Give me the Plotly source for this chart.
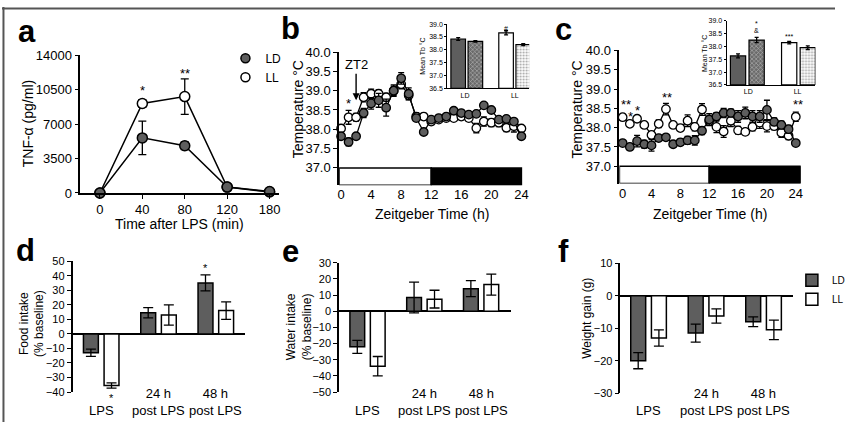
import plotly.graph_objects as go

W, H = 850, 430
FONT = 'Arial, "Liberation Sans", sans-serif'
DARK = '#5e5e5e'

# panel a: TNF-alpha after LPS
tnf_times = ['0', '40', '80', '120', '180']
tnf_ld = [0, 5600, 4800, 600, 150]
tnf_ld_err = [0, 1700, 400, 150, 80]
tnf_ll = [0, 9100, 9800, 600, 100]
tnf_ll_err = [0, 400, 1800, 100, 50]

# panels b, c: body temperature over a day
hours = [0, 1, 2, 3, 4, 5, 6, 7, 8, 9, 10, 11, 12, 13, 14, 15, 16, 17, 18, 19, 20, 21, 22, 23, 24]
b_ld = [37.82, 37.67, 37.82, 38.42, 38.67, 38.75, 38.56, 39.0, 39.32, 38.92, 38.29, 37.93, 38.25,
        38.29, 38.33, 38.48, 38.42, 38.38, 38.4, 38.62, 38.5, 38.25, 38.27, 38.2, 37.82]
b_ld_err = [0.06, 0.1, 0.05, 0.12, 0.15, 0.18, 0.22, 0.15, 0.15, 0.15, 0.08, 0.06, 0.05,
            0.05, 0.05, 0.07, 0.05, 0.05, 0.05, 0.05, 0.05, 0.06, 0.07, 0.06, 0.05]
b_ll = [38.02, 38.31, 38.31, 38.83, 38.92, 38.92, 38.83, 39.0, 39.17, 38.88, 38.33, 38.33, 38.2,
        38.25, 38.29, 38.29, 38.33, 38.29, 38.03, 38.2, 38.17, 38.17, 38.04, 38.08, 38.02]
b_ll_err = [0.06, 0.18, 0.1, 0.12, 0.12, 0.1, 0.1, 0.12, 0.12, 0.12, 0.1, 0.08, 0.08,
            0.06, 0.06, 0.06, 0.08, 0.08, 0.12, 0.12, 0.1, 0.1, 0.1, 0.15, 0.1]
c_ld = [37.6, 37.5, 37.65, 37.57, 37.54, 37.73, 37.75, 37.57, 37.62, 37.67, 37.67, 37.92, 38.21,
        38.29, 38.38, 38.38, 38.29, 38.38, 38.29, 38.29, 38.46, 38.15, 38.07, 37.96, 37.6]
c_ld_err = [0.03, 0.08, 0.15, 0.1, 0.15, 0.05, 0.05, 0.05, 0.08, 0.1, 0.12, 0.1, 0.15,
            0.1, 0.12, 0.1, 0.15, 0.15, 0.15, 0.15, 0.25, 0.1, 0.1, 0.1, 0.03]
c_ll = [38.27, 38.1, 38.23, 38.07, 37.81, 38.1, 38.48, 38.07, 37.99, 38.18, 38.02, 38.47, 38.17,
        38.02, 37.9, 38.18, 37.93, 37.89, 38.02, 38.13, 38.04, 38.04, 37.87, 37.79, 38.28]
c_ll_err = [0.08, 0.05, 0.05, 0.05, 0.08, 0.1, 0.15, 0.08, 0.05, 0.15, 0.1, 0.15, 0.12,
            0.15, 0.15, 0.15, 0.1, 0.08, 0.1, 0.15, 0.15, 0.1, 0.12, 0.1, 0.12]

# insets: mean Tb, bars LD-light, LD-dark, LL-light, LL-dark
inset_groups = ['LD', 'LL']
b_inset = [38.42, 38.33, 38.66, 38.2]
b_inset_err = [0.05, 0.03, 0.08, 0.04]
c_inset = [37.63, 38.25, 38.15, 37.95]
c_inset_err = [0.08, 0.1, 0.05, 0.07]

# panels d, e, f
bar_cats = ['LPS', '24 h<br>post LPS', '48 h<br>post LPS']
food_ld = [-13, 14.5, 35]
food_ld_err = [2.5, 3.5, 5.5]
food_ll = [-35.5, 13, 16]
food_ll_err = [1.8, 7, 6]
water_ld = [-22, 8.5, 14]
water_ld_err = [4, 9.5, 5]
water_ll = [-34, 7.5, 16.5]
water_ll_err = [6, 5.5, 6.5]
weight_ld = [-20, -11.5, -8]
weight_ld_err = [2.5, 2.8, 1.5]
weight_ll = [-13, -6.2, -10.5]
weight_ll_err = [2.5, 2.2, 3]


def xd(l, r):
    return [l / W, r / W]


def yd(t, b):
    return [1 - b / H, 1 - t / H]


def px(x):
    return x / W


def py(y):
    return 1 - y / H


def err(arr, w=3):
    return dict(type='data', array=arr, visible=True, color='black', thickness=1.3, width=w)


fig = go.Figure()

# ---- a
for vals, e, fill in [(tnf_ll, tnf_ll_err, 'white'), (tnf_ld, tnf_ld_err, DARK)]:
    fig.add_trace(go.Scatter(x=tnf_times, y=vals, error_y=err(e, 4), mode='lines+markers',
                             line=dict(color='black', width=1.5),
                             marker=dict(size=10, color=fill, line=dict(color='black', width=1.5)),
                             showlegend=False, xaxis='x', yaxis='y', cliponaxis=False))
for name, fill in [('LD', DARK), ('LL', 'white')]:
    fig.add_trace(go.Scatter(x=[None], y=[None], mode='markers', name=name,
                             marker=dict(size=9, color=fill, line=dict(color='black', width=1.5)),
                             xaxis='x', yaxis='y'))

# ---- b, c time series
for xa, ya, ld, lde, ll, lle in [('x2', 'y2', b_ld, b_ld_err, b_ll, b_ll_err),
                                 ('x4', 'y4', c_ld, c_ld_err, c_ll, c_ll_err)]:
    for vals, e, fill in [(ll, lle, 'white'), (ld, lde, DARK)]:
        fig.add_trace(go.Scatter(x=hours, y=vals, error_y=err(e, 3), mode='lines+markers',
                                 line=dict(color='black', width=1.3),
                                 marker=dict(size=8.5, color=fill, line=dict(color='black', width=1.3)),
                                 showlegend=False, xaxis=xa, yaxis=ya, cliponaxis=False))

# ---- insets
for xa, ya, vals, e, gap, bw in [('x3', 'y3', b_inset, b_inset_err, 2.79, 0.85),
                                 ('x5', 'y5', c_inset, c_inset_err, 2.75, 0.82)]:
    pos = [g * gap + i for g in range(2) for i in range(2)]
    fig.add_trace(go.Bar(x=pos, y=[v - 36.5 for v in vals], base=36.5, width=bw,
                         error_y=err(e, 2),
                         marker=dict(color=[DARK, '#6a6a6a', 'white', 'white'],
                                     line=dict(color='black', width=1.2),
                                     pattern=dict(shape=['', 'x', '', '.'],
                                                  fgcolor=[DARK, '#3a3a3a', 'white', '#b0b0b0'],
                                                  bgcolor=[DARK, '#7a7a7a', 'white', 'white'],
                                                  size=3, solidity=0.35)),
                         showlegend=False, xaxis=xa, yaxis=ya))

# ---- d, e, f
for xa, ya, ld, lde, ll, lle, leg in [('x6', 'y6', food_ld, food_ld_err, food_ll, food_ll_err, False),
                                      ('x7', 'y7', water_ld, water_ld_err, water_ll, water_ll_err, False),
                                      ('x8', 'y8', weight_ld, weight_ld_err, weight_ll, weight_ll_err, True)]:
    cat_pos = list(range(len(bar_cats)))
    fig.add_trace(go.Bar(x=cat_pos, y=ld, width=0.26, offset=-0.31, error_y=err(lde, 5),
                         marker=dict(color=DARK, line=dict(color='black', width=1.5)),
                         name='LD', showlegend=leg, legend='legend2', xaxis=xa, yaxis=ya))
    fig.add_trace(go.Bar(x=cat_pos, y=ll, width=0.26, offset=0.05, error_y=err(lle, 5),
                         marker=dict(color='white', line=dict(color='black', width=1.5)),
                         name='LL', showlegend=leg, legend='legend2', xaxis=xa, yaxis=ya))

axis_common = dict(showline=True, linecolor='black', linewidth=1.6, ticks='outside',
                   tickcolor='black', ticklen=4, tickwidth=1.4, showgrid=False, zeroline=False,
                   tickfont=dict(family=FONT, color='black'))

layout = dict(
    width=W, height=H, margin=dict(l=0, r=0, t=0, b=0),
    paper_bgcolor='white', plot_bgcolor='rgba(0,0,0,0)',
    font=dict(family=FONT, color='black'),
    barmode='overlay', showlegend=True,
    legend=dict(x=px(228), y=py(38), xanchor='left', yanchor='top', font=dict(size=12),
                bgcolor='rgba(0,0,0,0)', tracegroupgap=0, itemwidth=30),
    legend2=dict(x=px(806), y=py(268), xanchor='left', yanchor='top', font=dict(size=10),
                 bgcolor='rgba(0,0,0,0)', tracegroupgap=0, itemwidth=30),
)

# a
layout['xaxis'] = dict(axis_common, domain=xd(80, 283), anchor='y', range=[-0.46, 4.23],
                       type='category', tickfont=dict(size=13, family=FONT))
layout['yaxis'] = dict(axis_common, domain=yd(50, 192.7), anchor='x', range=[0, 14000],
                       dtick=3500, tickformat='d', tickfont=dict(size=13, family=FONT))
# b
layout['xaxis2'] = dict(axis_common, domain=xd(344, 532), anchor='y2', range=[-0.26, 24.26],
                        showline=False, ticks='', tick0=0, dtick=4, tickfont=dict(size=13, family=FONT))
layout['yaxis2'] = dict(axis_common, domain=yd(46.7, 184.7), anchor='x2', range=[36.55, 40.0],
                        tickvals=[37.0, 37.5, 38.0, 38.5, 39.0, 39.5, 40.0], tickformat='.1f',
                        tickfont=dict(size=13, family=FONT))
# c
layout['xaxis4'] = dict(axis_common, domain=xd(630, 815), anchor='y4', range=[-0.45, 24.68],
                        showline=False, ticks='', tick0=0, dtick=4, tickfont=dict(size=13, family=FONT))
layout['yaxis4'] = dict(axis_common, domain=yd(45, 183), anchor='x4', range=[36.55, 40.0],
                        tickvals=[37.0, 37.5, 38.0, 38.5, 39.0, 39.5, 40.0], tickformat='.1f',
                        tickfont=dict(size=13, family=FONT))
# insets
inset_axis = dict(axis_common, linewidth=1, ticklen=2, tickwidth=0.8, tickfont=dict(size=7, family=FONT))
layout['xaxis3'] = dict(inset_axis, domain=xd(454.3, 538), anchor='y3', range=[-0.64, 4.14],
                        ticks='', tickvals=[0.4, 3.3], ticktext=inset_groups)
layout['yaxis3'] = dict(inset_axis, domain=yd(17.7, 84.3), anchor='x3', range=[36.5, 39.0],
                        dtick=0.5, tickformat='.1f')
layout['xaxis5'] = dict(inset_axis, domain=xd(739.3, 830), anchor='y5', range=[-0.62, 4.16],
                        ticks='', tickvals=[0.55, 3.2], ticktext=inset_groups)
layout['yaxis5'] = dict(inset_axis, domain=yd(14.3, 80.7), anchor='x5', range=[36.5, 39.0],
                        dtick=0.5, tickformat='.1f')
# d, e, f
bar_x = dict(showline=False, showgrid=False, zeroline=False, showticklabels=False, ticks='')
bar_y = dict(axis_common, zeroline=True, zerolinecolor='black', zerolinewidth=1.6,
             tickfont=dict(size=11, family=FONT))
layout['xaxis6'] = dict(bar_x, domain=xd(72, 248), anchor='y6', range=[-0.5, 2.51])
layout['yaxis6'] = dict(bar_y, domain=yd(263.3, 399), anchor='x6', range=[-40, 50], dtick=10)
layout['xaxis7'] = dict(bar_x, domain=xd(344, 519), anchor='y7', range=[-0.5, 2.52])
layout['yaxis7'] = dict(bar_y, domain=yd(265, 399), anchor='x7', range=[-50, 30], dtick=10)
layout['xaxis8'] = dict(bar_x, domain=xd(631, 807), anchor='y8', range=[-0.49, 2.51])
layout['yaxis8'] = dict(bar_y, domain=yd(265.7, 400), anchor='x8', range=[-30, 10], dtick=10)

fig.update_layout(layout)

ann = []


def text(x, y, s, size=14, angle=0, xref='paper', yref='paper', bold=False, yanchor='middle'):
    ann.append(dict(x=x, y=y, text=f'<b>{s}</b>' if bold else s, xref=xref, yref=yref,
                    xanchor='center', yanchor=yanchor, showarrow=False, textangle=angle,
                    font=dict(size=size, family=FONT, color='black')))


# panel letters
for s, x, y in [('a', 25, 25), ('b', 294, 22), ('c', 573, 23), ('d', 24, 252), ('e', 294, 253), ('f', 573, 253)]:
    text(px(x), py(y), s, size=31, bold=True)

# axis titles
text(px(26), py(121), 'TNF-α (pg/ml)', 14, -90)
text(px(181), py(225), 'Time after LPS (min)', 14)
text(px(302), py(106), 'Temperature °C', 14, -90)
text(px(439), py(214), 'Zeitgeber Time (h)', 14)
text(px(587), py(106), 'Temperature °C', 14, -90)
text(px(722), py(214), 'Zeitgeber Time (h)', 14)
text(px(429), py(51), 'Mean Tb °C', 7, -90)
text(px(717), py(48), 'Mean Tb °C', 7, -90)
text(px(30), py(328), 'Food intake<br>(% baseline)', 12, -90)
text(px(304), py(331), 'Water intake<br>(% baseline)', 12, -90)
text(px(597), py(323), 'Weight gain (g)', 12, -90)

# category labels under bar panels
for xa in ['x6', 'x7', 'x8']:
    for i, c in enumerate(bar_cats):
        text(i, py(428), c, 13, xref=xa, yanchor='bottom')

# significance marks
text(1, 10400, '*', 13, xref='x', yref='y')
text(2, 12100, '**', 13, xref='x', yref='y')
text(1, 38.68, '*', 13, xref='x2', yref='y2')
for x, y, s in [(0.45, 38.6, '**'), (1.1, 38.3, '*'), (2.1, 38.45, '*'), (6.2, 38.78, '**'), (24.3, 38.6, '**')]:
    text(x, y, s, 13, xref='x4', yref='y4')
text(2.79, 39.02, '*', 7, xref='x3', yref='y3')
text(2.79, 38.83, '#', 7, xref='x3', yref='y3')
text(1, 38.88, '*', 7, xref='x5', yref='y5')
text(1, 38.64, '&amp;', 7, xref='x5', yref='y5')
text(2.75, 38.4, '***', 7, xref='x5', yref='y5')
text(0.18, py(405), '*', 11, xref='x6')
text(-0.18 + 2, 45, '*', 11, xref='x6', yref='y6')

# ZT2 arrow
ann.append(dict(x=2, y=38.75, ax=2, ay=39.67, xref='x2', yref='y2', axref='x2', ayref='y2',
                text='ZT2', showarrow=True, arrowhead=2, arrowsize=1, arrowwidth=1.4,
                arrowcolor='black', font=dict(size=13, family=FONT, color='black')))

fig.update_layout(annotations=ann)

# light/dark bars under the temperature traces
shapes = []
for xa, ya, lo, hi in [('x2', 'y2', -0.26, 24.0), ('x4', 'y4', -0.45, 24.68)]:
    shapes.append(dict(type='rect', xref=xa, yref=ya, x0=lo, x1=12, y0=36.55, y1=37.0,
                       fillcolor='white', line=dict(color='black', width=1.5)))
    shapes.append(dict(type='rect', xref=xa, yref=ya, x0=12, x1=hi, y0=36.55, y1=37.0,
                       fillcolor='black', line=dict(color='black', width=1.5)))
# frame around the figure
shapes.append(dict(type='line', xref='paper', yref='paper', x0=0, x1=1, y0=py(1.5), y1=py(1.5),
                   line=dict(color='#555555', width=2)))
shapes.append(dict(type='line', xref='paper', yref='paper', x0=px(1.5), x1=px(1.5), y0=0, y1=1,
                   line=dict(color='#555555', width=2)))
fig.update_layout(shapes=shapes)

fig.write_html('out.html', config={'displayModeBar': False},
               post_script="document.body.style.margin='0px';")
